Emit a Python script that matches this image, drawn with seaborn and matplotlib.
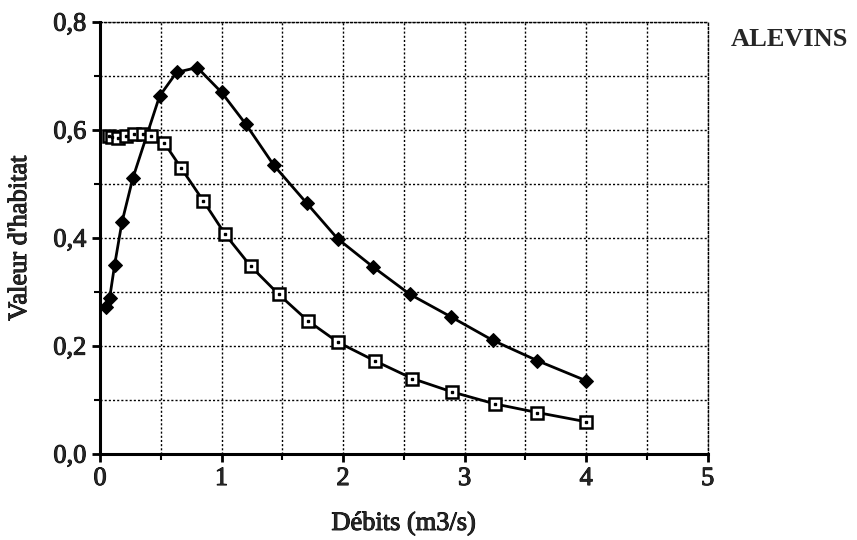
import numpy as np
import pandas as pd
import matplotlib
matplotlib.use("Agg")
import matplotlib.pyplot as plt
import matplotlib.patheffects as pe
import seaborn as sns
from matplotlib.ticker import MultipleLocator, FuncFormatter

# Données
debit_losange = [0.05, 0.08, 0.12, 0.18, 0.27, 0.49, 0.63, 0.80, 1.00, 1.20,
                 1.43, 1.70, 1.955, 2.245, 2.55, 2.89, 3.23, 3.60, 4.00]
valeur_losange = [0.273, 0.290, 0.350, 0.429, 0.511, 0.663, 0.707, 0.716, 0.670, 0.611,
                  0.535, 0.465, 0.399, 0.347, 0.296, 0.254, 0.211, 0.173, 0.136]

debit_carre = [0.07, 0.10, 0.15, 0.21, 0.28, 0.35, 0.42, 0.53, 0.67, 0.85, 1.03,
               1.24, 1.47, 1.71, 1.96, 2.26, 2.57, 2.90, 3.25, 3.60, 4.00]
valeur_carre = [0.590, 0.588, 0.586, 0.589, 0.592, 0.593, 0.590, 0.576, 0.529, 0.469, 0.407,
                0.348, 0.296, 0.247, 0.207, 0.173, 0.140, 0.115, 0.093, 0.077, 0.060]

sns.set_style("white")
plt.rcParams['font.family'] = ['Liberation Serif', 'DejaVu Serif']

fig = plt.figure(figsize=(8.57, 5.40), dpi=100)
ax = fig.add_axes([0.1167, 0.159, 0.709, 0.800])

df_l = pd.DataFrame({"debit": debit_losange, "valeur": valeur_losange})
df_c = pd.DataFrame({"debit": debit_carre, "valeur": valeur_carre})

sns.lineplot(data=df_l, x="debit", y="valeur", ax=ax, sort=False, color="black",
             linewidth=2, marker="D", markersize=7, markerfacecolor="black",
             markeredgecolor="black", zorder=4)
sns.lineplot(data=df_c, x="debit", y="valeur", ax=ax, sort=False, color="black",
             linewidth=2, marker="s", markersize=8, markerfacecolor="white",
             markeredgecolor="black", markeredgewidth=1.8, zorder=5)
ax.plot(df_c["debit"], df_c["valeur"], linestyle="none", marker="s", markersize=1.8,
        color="black", zorder=6)

ax.set_xlim(0, 5)
ax.set_ylim(0, 0.8)
ax.xaxis.set_major_locator(MultipleLocator(1))
ax.xaxis.set_minor_locator(MultipleLocator(0.5))
ax.yaxis.set_major_locator(MultipleLocator(0.2))
ax.yaxis.set_minor_locator(MultipleLocator(0.1))
ax.yaxis.set_major_formatter(FuncFormatter(lambda v, p: f"{v:.1f}".replace(".", ",")))
ax.xaxis.set_major_formatter(FuncFormatter(lambda v, p: f"{v:.0f}"))

ax.grid(True, which="both", color="black", linestyle=(0, (1.5, 1.5)), linewidth=1.0)
ax.set_axisbelow(True)

for s in ["left", "bottom"]:
    ax.spines[s].set_linewidth(2.2)
    ax.spines[s].set_color("black")
for s in ["top", "right"]:
    ax.spines[s].set_linewidth(1.0)
    ax.spines[s].set_linestyle((0, (1.5, 1.5)))
    ax.spines[s].set_color("black")

ax.tick_params(which="major", direction="out", length=6, width=2, color="black",
               labelsize=19, pad=4)
ax.tick_params(which="minor", direction="out", length=4, width=1.5, color="black")
ax.tick_params(axis="both", which="both", bottom=True, left=True)

ax.set_xlabel("Débits (m3/s)", fontsize=19, labelpad=16)
ax.set_ylabel("Valeur d'habitat", fontsize=19, labelpad=16)

titre = fig.text(0.853, 0.926, "ALEVINS", fontsize=19, fontweight="bold",
                 ha="left", va="center")

# trait un peu épais, comme sur le document scanné
epais = [pe.withStroke(linewidth=0.7, foreground="black")]
for t in ax.get_xticklabels() + ax.get_yticklabels() + [ax.xaxis.label, ax.yaxis.label]:
    t.set_path_effects(epais)

fig.savefig("out.png", dpi=100)
